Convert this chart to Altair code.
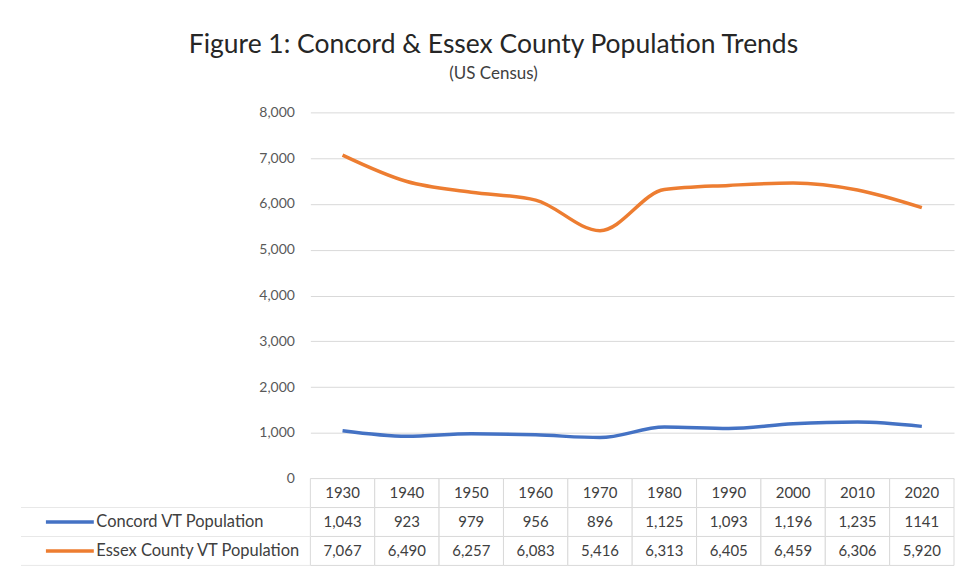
import altair as alt
import pandas as pd

years = ["1930", "1940", "1950", "1960", "1970", "1980", "1990", "2000", "2010", "2020"]
concord = [1043, 923, 979, 956, 896, 1125, 1093, 1196, 1235, 1141]
essex = [7067, 6490, 6257, 6083, 5416, 6313, 6405, 6459, 6306, 5920]
concord_labels = ["1,043", "923", "979", "956", "896", "1,125", "1,093", "1,196", "1,235", "1141"]
essex_labels = ["7,067", "6,490", "6,257", "6,083", "5,416", "6,313", "6,405", "6,459", "6,306", "5,920"]
series_names = ["Concord VT Population", "Essex County VT Population"]
series_colors = ["#4472C4", "#ED7D31"]
y_ticks = [0, 1000, 2000, 3000, 4000, 5000, 6000, 7000, 8000]
rows = ["Year"] + series_names

FONT = "Lato"
W = 645
H = 367
ROW_H = 29

line_df = pd.DataFrame({
    "Year": years * 2,
    "Population": concord + essex,
    "Series": [series_names[0]] * len(years) + [series_names[1]] * len(years),
})

table_df = pd.DataFrame({
    "Year": years * 3,
    "Row": ["Year"] * len(years) + [series_names[0]] * len(years) + [series_names[1]] * len(years),
    "Text": years + concord_labels + essex_labels,
})

swatch_df = pd.DataFrame({"Row": series_names})

color_scale = alt.Scale(domain=series_names, range=series_colors)

lines = alt.Chart(line_df).mark_line(strokeWidth=3.5, interpolate="monotone").encode(
    x=alt.X("Year:O", sort=years, scale=alt.Scale(type="point", padding=0.5), axis=None),
    y=alt.Y(
        "Population:Q",
        scale=alt.Scale(domain=[0, 8000]),
        axis=alt.Axis(
            values=y_ticks, format=",.0f", grid=True, gridColor="#d9d9d9", gridWidth=1,
            domain=False, ticks=False, labelPadding=16, labelFontSize=14,
            labelColor="#595959", labelFont=FONT, title=None,
        ),
    ),
    color=alt.Color("Series:N", scale=color_scale, legend=None),
).properties(width=W, height=H)

x_band = alt.X("Year:O", sort=years, scale=alt.Scale(type="band", paddingInner=0, paddingOuter=0), axis=None)
y_band_scale = alt.Scale(type="band", domain=rows, paddingInner=0, paddingOuter=0)

cells = alt.Chart(table_df).mark_rect(fill="white", stroke="#d9d9d9", strokeWidth=1).encode(
    x=x_band,
    y=alt.Y(
        "Row:N", sort=rows, scale=y_band_scale,
        axis=alt.Axis(
            title=None, domain=False, ticks=False, tickSize=0, labelAlign="left",
            labelPadding=215, labelFontSize=16.5, labelFont=FONT, labelColor="#404040",
            labelLimit=400,
            labelExpr="datum.value == 'Year' ? '' : datum.value",
        ),
    ),
)

texts = alt.Chart(table_df).mark_text(fontSize=15, font=FONT, color="#404040").encode(
    x=x_band,
    y=alt.Y("Row:N", sort=rows, scale=y_band_scale, bandPosition=0.5),
    text="Text:N",
)

label_rule_top = alt.Chart(swatch_df).mark_rule(color="#e8e8e8", strokeWidth=1).encode(
    y=alt.Y("Row:N", sort=rows, scale=y_band_scale, bandPosition=0),
    x=alt.value(-290), x2=alt.value(0),
)
label_rule_bottom = alt.Chart(swatch_df).mark_rule(color="#e8e8e8", strokeWidth=1).encode(
    y=alt.Y("Row:N", sort=rows, scale=y_band_scale, bandPosition=1),
    x=alt.value(-290), x2=alt.value(0),
)

swatches = alt.Chart(swatch_df).mark_rule(strokeWidth=3.5).encode(
    y=alt.Y("Row:N", sort=rows, scale=y_band_scale, bandPosition=0.5),
    x=alt.value(-265), x2=alt.value(-217),
    color=alt.Color("Row:N", scale=color_scale, legend=None),
)

table = alt.layer(cells, label_rule_top, label_rule_bottom, swatches, texts).properties(
    width=W, height=ROW_H * 3
)

chart = alt.vconcat(lines, table, spacing=0, bounds="flush").resolve_scale(
    x="independent", y="independent"
).properties(
    title=alt.TitleParams(
        text="Figure 1: Concord & Essex County Population Trends",
        subtitle="(US Census)",
        font=FONT, fontSize=26.5, fontWeight="normal", color="#262626",
        subtitleFont=FONT, subtitleFontSize=17, subtitleColor="#404040",
        anchor="middle", offset=23, subtitlePadding=8, dx=6,
    ),
    padding={"left": 12, "top": 23, "right": 5, "bottom": 5},
    background="white",
).configure_view(stroke=None)

chart.save("out.html", embed_options={"renderer": "svg", "actions": False})
